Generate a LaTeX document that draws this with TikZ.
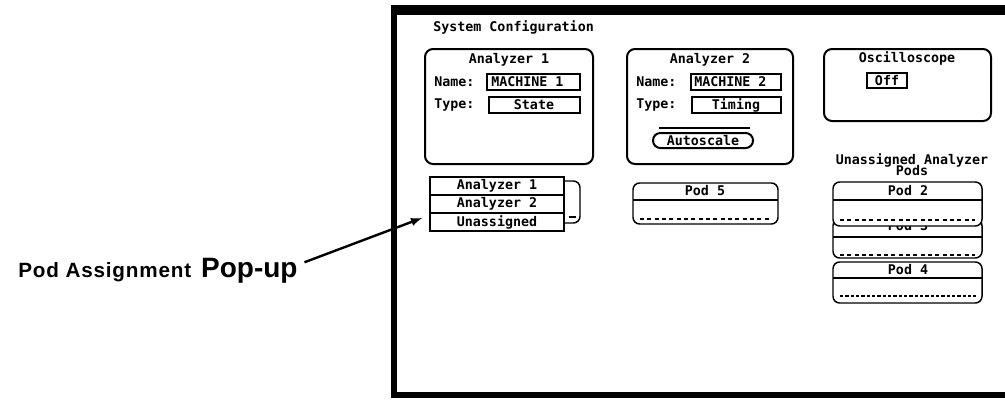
\documentclass[tikz,border=0pt]{standalone}
\usepackage{fontspec}
\usepackage{tikz}
\usetikzlibrary{shapes}
\usetikzlibrary{calc}
\usetikzlibrary{positioning}
\newfontfamily\scrfont{DejaVu Sans Mono}
\newfontfamily\lblfont[LetterSpace=4]{Liberation Sans}
\newfontfamily\bigfont{Liberation Sans}
\tikzset{ scr_text/.style = {font=\scrfont\bfseries\fontsize{10}{10}\selectfont, inner sep=0pt} }
\tikzset{ scr_panel/.style = {draw, line width=1.5pt, rounded corners=6pt} }
\tikzset{ scr_field/.style = {draw, line width=1.1pt} }
\tikzset{ pod_box/.style = {draw, fill=white, line width=1.1pt, rounded corners=5pt} }
\tikzset{ pod_dash/.style = {line width=1pt, dash pattern=on 3pt off 2.5pt} }
\tikzset{ pod_dots/.style = {line width=2pt, dash pattern=on 2.5pt off 1.5pt} }
\tikzset{ lbl_text/.style = {font=\lblfont\bfseries\fontsize{15.5}{15.5}\selectfont, inner sep=0pt} }
\tikzset{ lbl_big/.style = {font=\bigfont\bfseries\fontsize{21}{21}\selectfont, inner sep=0pt} }

\begin{document}
\begin{tikzpicture}[x=0.75pt, y=-0.75pt]
                \useasboundingbox (0,0) rectangle (1005,400);
                \fill (391,5) rectangle (1005,15);
                \fill (391,5) rectangle (397,398);
                \fill (391,392) rectangle (1005,398);
                \node [scr_text, anchor=west] (sys) at (433,27) {System Configuration};
                \draw [scr_panel] (425,49) rectangle (593,164);
                \node [scr_text] (ana1) at (509,60) {Analyzer 1};
                \node [scr_text, anchor=west] (name1) at (434,82) {Name:};
                \draw [scr_field] (487,74) rectangle (580,90);
                \node [scr_text, anchor=west] (mach1) at (491,82) {MACHINE 1};
                \node [scr_text, anchor=west] (type1) at (434,105) {Type:};
                \draw [scr_field] (489,97) rectangle (580,113);
                \node [scr_text] (state) at (534,105) {State};
                \draw [scr_panel] (627,49) rectangle (793,164);
                \node [scr_text] (ana2) at (710,60) {Analyzer 2};
                \node [scr_text, anchor=west] (name2) at (636,82) {Name:};
                \draw [scr_field, line width=1.8pt] (691,74) rectangle (781,90);
                \node [scr_text, anchor=west] (mach2) at (694,82) {MACHINE 2};
                \node [scr_text, anchor=west] (type2) at (636,105) {Type:};
                \draw [scr_field] (692,97) rectangle (781,113);
                \node [scr_text] (timing) at (736,105) {Timing};
                \draw [line width=1.2pt] (659,128) -- (750,128);
                \draw [scr_field, line width=1.5pt, rounded corners=5.5pt] (653,133) rectangle (753,148);
                \node [scr_text] (auto) at (703,141) {Autoscale};
                \draw [scr_panel] (824,49) rectangle (991,121);
                \node [scr_text] (osc) at (907,58) {Oscilloscope};
                \draw [scr_field] (867,73) rectangle (907,88);
                \node [scr_text] (off) at (887,81) {Off};
                \node [scr_text] (unas) at (912,160) {Unassigned Analyzer};
                \node [scr_text] (pods) at (912,171) {Pods};
                \draw [pod_box] (633,183) rectangle (778,224);
                \draw [line width=1.1pt] (633,200) -- (778,200);
                \node [scr_text] (pod5) at (705,191) {Pod 5};
                \draw [pod_dash] (640,219) -- (771,219);
                \draw [pod_box] (833,219) rectangle (982,258);
                \node [scr_text] (pod3) at (908,226) {Pod 3};
                \draw [line width=1.1pt] (833,237) -- (982,237);
                \draw [pod_dash] (840,255) -- (975,255);
                \draw [pod_box] (833,182) rectangle (982,226);
                \draw [line width=1.1pt] (833,200) -- (982,200);
                \node [scr_text] (pod2) at (908,191) {Pod 2};
                \draw [pod_dash] (840,220) -- (975,220);
                \draw [pod_box] (833,262) rectangle (982,303);
                \draw [line width=1.1pt] (833,278) -- (982,278);
                \node [scr_text] (pod4) at (908,270) {Pod 4};
                \draw [pod_dots] (840,296) -- (976,296);
                \draw [pod_box] (520,181) rectangle (580,223);
                \draw [line width=1pt] (569,217) -- (576,217);
                \draw [line width=1.6pt, fill=white] (430,177) rectangle (564,231);
                \draw [line width=1.6pt] (430,195) -- (564,195);
                \draw [line width=1.6pt] (430,213) -- (564,213);
                \node [scr_text] (opt1) at (497,186) {Analyzer 1};
                \node [scr_text] (opt2) at (497,204) {Analyzer 2};
                \node [scr_text] (opt3) at (497,222) {Unassigned};
                \coordinate (tip) at (422,218);
                \node [lbl_text, anchor=base west] (assign) at (18,277) {Pod Assignment};
                \node [lbl_big, anchor=base west] (popup) at ([xshift=7pt]assign.base east) {Pop-up};
                \draw [-latex, line width=1.8pt] ([xshift=5pt, yshift=6pt]popup.east) to (tip);
        \end{tikzpicture}
\end{document}
